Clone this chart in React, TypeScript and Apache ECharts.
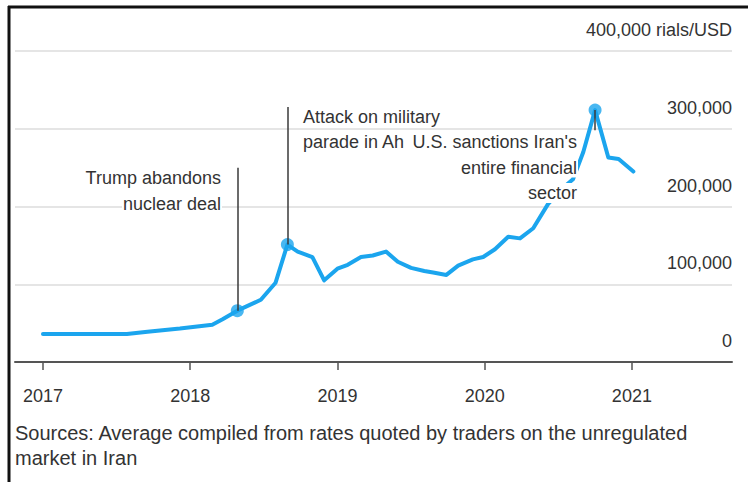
import React, { useEffect, useRef } from "react";
import * as echarts from "echarts";

// ---- data ----
const years = [2017, 2018, 2019, 2020, 2021];

const dates = [
  2017.0, 2017.57, 2017.71, 2017.93, 2018.15, 2018.22, 2018.32, 2018.48, 2018.58, 2018.66,
  2018.73, 2018.83, 2018.91, 2019.0, 2019.07, 2019.16, 2019.24, 2019.33, 2019.41, 2019.5,
  2019.59, 2019.65, 2019.74, 2019.82, 2019.92, 2019.99, 2020.07, 2020.16, 2020.24, 2020.33,
  2020.43, 2020.52, 2020.6, 2020.67, 2020.75, 2020.84, 2020.91, 2021.01,
];

const rates = [
  36000, 36000, 39000, 43000, 48000, 55000, 66000, 80000, 102000, 151000,
  142000, 135000, 105000, 120000, 125000, 135000, 137000, 142000, 129000, 121000,
  117000, 115000, 112000, 124000, 132000, 135000, 145000, 161000, 159000, 172000,
  203000, 222000, 235000, 270000, 324000, 263000, 261000, 245000,
];

const eventDates = [2018.32, 2018.66, 2020.75];
const eventValues = [66000, 151000, 324000];
const eventLineEnds = [250000, 328000, 298000];

const yTicks = [0, 100000, 200000, 300000, 400000];
const yUnit = "rials/USD";

const trumpLabel = ["Trump abandons", "nuclear deal"];
const attackLabel = ["Attack on military", "parade in Ah"];
const sanctionsLabel = ["U.S. sanctions Iran's", "entire financial", "sector"];
const sourceText =
  "Sources: Average compiled from rates quoted by traders on the unregulated\nmarket in Iran";

const FONT = "'Liberation Sans', Arial, Helvetica, sans-serif";
const TEXT = "#333333";
const BLUE = "#1ba5ee";

export default function App() {
  const ref = useRef<HTMLDivElement>(null);

  useEffect(() => {
    if (!ref.current) return;
    const chart = echarts.init(ref.current, undefined, { renderer: "svg" });

    const fmt = (v: number) => v.toLocaleString("en-US");

    const textLines = (
      lines: string[],
      x: number,
      y0: number,
      step: number,
      align: string
    ) =>
      lines.map((t, i) => ({
        type: "text",
        x,
        y: y0 + i * step,
        z: 50,
        style: {
          text: t,
          fill: TEXT,
          fontSize: 18,
          fontFamily: FONT,
          align,
          verticalAlign: "middle",
          backgroundColor: "#ffffff",
          padding: [1, 1, 1, 1],
        },
      }));

    chart.setOption({
      animation: false,
      backgroundColor: "#ffffff",
      grid: {
        left: 15,
        right: 16,
        top: 51,
        bottom: 120,
        containLabel: false,
        outerBoundsMode: "none",
      },
      xAxis: {
        type: "value",
        min: 2016.81,
        max: 2021.68,
        splitLine: { show: false },
        axisLine: { show: true, onZero: false, lineStyle: { color: "#555555", width: 2 } },
        axisTick: {
          show: true,
          length: 8,
          customValues: years,
          lineStyle: { color: "#555555", width: 1.5 },
        },
        axisLabel: {
          customValues: years,
          margin: 25,
          color: TEXT,
          fontSize: 18,
          fontFamily: FONT,
          formatter: (v: number) => String(Math.round(v)),
        },
      },
      yAxis: {
        type: "value",
        position: "right",
        min: 0,
        max: 400000,
        interval: 100000,
        axisLine: { show: false },
        axisTick: { show: false },
        splitLine: { show: true, lineStyle: { color: "#dddddd", width: 1.5 } },
        axisLabel: {
          inside: true,
          margin: 0,
          color: TEXT,
          fontSize: 18,
          fontFamily: FONT,
          verticalAlign: "bottom",
          padding: [0, 0, 12, 0],
          formatter: (v: number) =>
            v === yTicks[yTicks.length - 1] ? `${fmt(v)} ${yUnit}` : fmt(v),
        },
      },
      series: [
        {
          type: "line",
          data: dates.map((d, i) => [d, rates[i]]),
          symbol: "none",
          z: 2,
          lineStyle: { color: BLUE, width: 4, join: "round", cap: "round" },
          markLine: {
            silent: true,
            symbol: ["none", "none"],
            label: { show: false },
            lineStyle: { color: "#3a3a3a", width: 1.5, type: "solid" },
            data: eventDates.map((d, i) => [
              { coord: [d, eventValues[i]] },
              { coord: [d, eventLineEnds[i]] },
            ]),
          },
        },
        {
          type: "scatter",
          data: eventDates.map((d, i) => [d, eventValues[i]]),
          symbol: "circle",
          symbolSize: 13,
          z: 3,
          itemStyle: { color: BLUE },
        },
      ],
      graphic: [
        {
          type: "line",
          z: 60,
          shape: { x1: 8, y1: 7, x2: 748, y2: 7 },
          style: { stroke: "#111111", lineWidth: 3 },
        },
        {
          type: "line",
          z: 60,
          shape: { x1: 9, y1: 6, x2: 9, y2: 482 },
          style: { stroke: "#111111", lineWidth: 3 },
        },
        ...textLines(trumpLabel, 222, 178, 26, "right"),
        ...textLines(attackLabel, 302, 117, 25, "left"),
        ...textLines(sanctionsLabel, 578, 142, 25.5, "right"),
        {
          type: "text",
          x: 15,
          y: 420,
          z: 50,
          style: {
            text: sourceText,
            fill: TEXT,
            fontSize: 20,
            fontFamily: FONT,
            lineHeight: 25,
            align: "left",
            verticalAlign: "top",
          },
        },
      ],
    });

    return () => chart.dispose();
  }, []);

  return (
    <div
      ref={ref}
      style={{ position: "fixed", left: 0, top: 0, width: 748, height: 482 }}
    />
  );
}
